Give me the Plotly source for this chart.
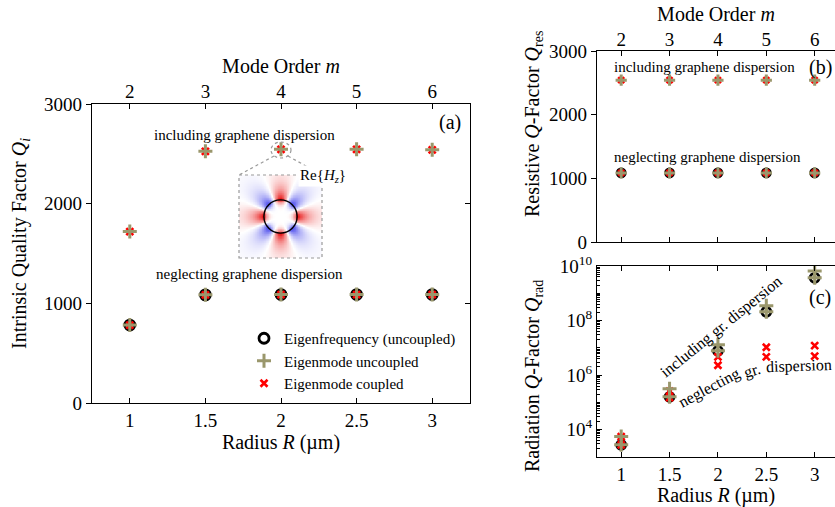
import numpy as np
import plotly.graph_objects as go

# ---------------- data ----------------
radius = [1, 1.5, 2, 2.5, 3]
mode_order = [2, 3, 4, 5, 6]
r_ticks = [1, 1.5, 2, 2.5, 3]
r_tick_labels = ["1", "1.5", "2", "2.5", "3"]

# (a) intrinsic Q
qi_incl_uncoupled = [1720, 2525, 2545, 2545, 2540]
qi_incl_coupled = [1720, 2525, 2545, 2545, 2540]
qi_negl_eigfreq = [782, 1085, 1088, 1088, 1088]
qi_negl_uncoupled = [782, 1085, 1088, 1088, 1088]
qi_negl_coupled = [782, 1085, 1088, 1088, 1088]

# (b) resistive Q
qres_incl_uncoupled = [2542, 2542, 2542, 2542, 2542]
qres_incl_coupled = [2542, 2542, 2542, 2542, 2542]
qres_negl_eigfreq = [1085, 1085, 1085, 1085, 1085]
qres_negl_uncoupled = [1085, 1085, 1085, 1085, 1085]
qres_negl_coupled = [1085, 1085, 1085, 1085, 1085]

# (c) radiation Q
qrad_incl_uncoupled = [5.6e3, 3.2e5, 1.3e7, 3.5e8, 6.6e9]
qrad_incl_coupled = [5.6e3, 2.6e5, 4.7e6, 1.05e7, 1.2e7]
qrad_negl_eigfreq = [2.8e3, 1.6e5, 7.8e6, 2.1e8, 3.7e9]
qrad_negl_uncoupled = [2.8e3, 1.6e5, 7.8e6, 2.1e8, 3.7e9]
qrad_negl_coupled = [2.8e3, 1.5e5, 2.3e6, 4.7e6, 5.0e6]

# ---------------- layout helpers ----------------
W, H = 835, 507
FONT = "Liberation Serif"
OLIVE = "#9a976c"


def px(x):
    return x / W


def py(y):
    return 1 - y / H


fig = go.Figure()

circle_m = dict(symbol="circle-open", size=10, color="black", line=dict(width=2.8, color="black"))
plus_m = dict(symbol="cross-thin", size=10, color=OLIVE, line=dict(width=3.0, color=OLIVE))
x_m = dict(symbol="x-thin", size=7, color="red", line=dict(width=2.6, color="red"))


def add(xa, ya, y, marker, name, show, rank, msize=None):
    mk = dict(marker)
    if msize is not None:
        mk["size"] = msize
    fig.add_trace(go.Scatter(x=radius, y=y, mode="markers", marker=mk, name=name,
                             legendgroup=name, showlegend=show, legendrank=rank,
                             xaxis=xa, yaxis=ya, hoverinfo="x+y"))


def anchor_trace(xa, ya, xs, ys):
    # invisible trace so that the secondary (top / right) axes get drawn
    fig.add_trace(go.Scatter(x=xs, y=ys, mode="markers", marker=dict(opacity=0), showlegend=False,
                             xaxis=xa, yaxis=ya, hoverinfo="skip"))


N1, N2, N3 = "Eigenfrequency (uncoupled)", "Eigenmode uncoupled", "Eigenmode coupled"

# panel (a)
add("x", "y", qi_negl_eigfreq, circle_m, N1, True, 1)
add("x", "y", qi_negl_coupled, x_m, N3, True, 3)
add("x", "y", qi_incl_coupled, x_m, N3, False, 3)
add("x", "y", qi_negl_uncoupled, plus_m, N2, True, 2)
add("x", "y", qi_incl_uncoupled, plus_m, N2, False, 2)
anchor_trace("x2", "y", mode_order, qi_negl_eigfreq)
anchor_trace("x", "y2", radius, qi_negl_eigfreq)

# panel (b)
add("x3", "y3", qres_negl_eigfreq, circle_m, N1, False, 1, 8)
add("x3", "y3", qres_negl_coupled, x_m, N3, False, 3, 6)
add("x3", "y3", qres_incl_coupled, x_m, N3, False, 3, 6)
add("x3", "y3", qres_negl_uncoupled, plus_m, N2, False, 2, 8)
add("x3", "y3", qres_incl_uncoupled, plus_m, N2, False, 2, 8)
anchor_trace("x4", "y3", mode_order, qres_negl_eigfreq)

# panel (c)
add("x5", "y5", qrad_negl_eigfreq, circle_m, N1, False, 1, 9)
add("x5", "y5", qrad_negl_coupled, x_m, N3, False, 3)
add("x5", "y5", qrad_incl_coupled, x_m, N3, False, 3)
add("x5", "y5", qrad_negl_uncoupled, plus_m, N2, False, 2)
add("x5", "y5", qrad_incl_uncoupled, plus_m, N2, False, 2)
anchor_trace("x6", "y5", radius, qrad_negl_eigfreq)

# inset field pattern Re{Hz} (m = 4 whispering gallery mode, illustrative)
g = np.linspace(-1, 1, 121)
X, Y = np.meshgrid(g, g)
Rr = np.hypot(X, Y)
Th = np.arctan2(Y, X)
r0 = 0.40
radial = np.where(Rr < r0, (Rr / r0) ** 5, np.exp(-(Rr - r0) / 0.27))
Hz = np.cos(4 * Th) * radial
Hz = np.where(Hz > 0, Hz, 0.8 * Hz)
fig.add_trace(go.Heatmap(x=g, y=g, z=Hz, zmin=-1, zmax=1, zmid=0, showscale=False,
                         colorscale=[[0, "rgb(20,20,230)"], [0.5, "white"], [1, "rgb(230,0,0)"]],
                         xaxis="x7", yaxis="y7", hoverinfo="skip"))

tickfont = dict(family=FONT, size=19, color="black")
ax_common = dict(showline=True, linecolor="black", linewidth=1.3, ticklen=5, tickwidth=1.1,
                 tickcolor="black", showgrid=False, zeroline=False, tickfont=tickfont,
                 automargin=False)
title_font = dict(family=FONT, size=20, color="black")

dom_a_x = [px(92), px(470)]
dom_a_y = [py(403), py(104)]
dom_b_x = [px(597), 1.0]
dom_b_y = [py(242), py(51)]
dom_c_y = [py(457), py(266)]
xr_bc = [0.75, 3.21]

fig.update_layout(
    width=W, height=H, margin=dict(l=0, r=0, t=0, b=0, autoexpand=False),
    paper_bgcolor="white", plot_bgcolor="white",
    font=dict(family=FONT, size=15, color="black"),
    # (a)
    xaxis=dict(domain=dom_a_x, range=[0.75, 3.25], anchor="y", ticks="inside",
               tickvals=r_ticks, ticktext=r_tick_labels,
               title=dict(text="Radius <i>R</i> (µm)", font=title_font, standoff=4), **ax_common),
    yaxis=dict(domain=dom_a_y, range=[0, 3000], anchor="x", ticks="outside",
               tickvals=[0, 1000, 2000, 3000], **ax_common),
    xaxis2=dict(overlaying="x", side="top", anchor="y", range=[1.5, 6.5], ticks="inside",
                tickvals=mode_order, ticklabelstandoff=-3,
                title=dict(text="Mode Order <i>m</i>", font=title_font, standoff=2),
                **ax_common),
    yaxis2=dict(overlaying="y", side="right", anchor="x", range=[0, 3000], ticks="inside",
                tickvals=[0, 1000, 2000, 3000], showticklabels=False, **ax_common),
    # (b)
    xaxis3=dict(domain=dom_b_x, range=xr_bc, anchor="y3", ticks="inside", tickvals=r_ticks,
                showticklabels=False, **ax_common),
    yaxis3=dict(domain=dom_b_y, range=[0, 3000], anchor="x3", ticks="outside",
                tickvals=[0, 1000, 2000, 3000], **ax_common),
    xaxis4=dict(overlaying="x3", side="top", anchor="y3", range=[1.5, 6.42], ticks="inside",
                tickvals=mode_order, ticklabelstandoff=-4,
                title=dict(text="Mode Order <i>m</i>", font=title_font, standoff=2),
                **ax_common),
    # (c)
    xaxis5=dict(domain=dom_b_x, range=xr_bc, anchor="y5", ticks="inside", tickvals=r_ticks,
                ticktext=r_tick_labels,
                title=dict(text="Radius <i>R</i> (µm)", font=title_font, standoff=4), **ax_common),
    yaxis5=dict(domain=dom_c_y, type="log", range=[3, 10], anchor="x5", ticks="inside",
                tickvals=[1e4, 1e6, 1e8, 1e10],
                ticktext=["10<sup>4</sup>", "10<sup>6</sup>", "10<sup>8</sup>", "10<sup>10</sup>"],
                minor=dict(ticks="inside", ticklen=2.5, tickcolor="black",
                           tickvals=[k * 10.0 ** d for d in range(3, 10) for k in range(1, 10)]),
                **ax_common),
    xaxis6=dict(overlaying="x5", side="top", anchor="y5", range=xr_bc, ticks="inside",
                tickvals=r_ticks, showticklabels=False, **ax_common),
    # inset
    xaxis7=dict(domain=[px(239), px(322)], range=[-1, 1], visible=False, anchor="y7"),
    yaxis7=dict(domain=[py(258), py(175)], range=[-1, 1], visible=False, anchor="x7"),
    legend=dict(x=px(244), y=py(322), xanchor="left", yanchor="top", bgcolor="rgba(0,0,0,0)",
                font=dict(family=FONT, size=15, color="black"), itemwidth=30, tracegroupgap=0),
    showlegend=True,
)

# shapes: inset frame, zoom circle and connectors, field ring
dash = dict(color="#9a9a9a", width=1.2, dash="dot")
fig.add_shape(type="rect", xref="paper", yref="paper", x0=px(239), x1=px(322), y0=py(258), y1=py(175),
              line=dash)
fig.add_shape(type="circle", xref="paper", yref="paper", x0=px(271), x1=px(291), y0=py(158), y1=py(142),
              line=dash)
fig.add_shape(type="line", xref="paper", yref="paper", x0=px(274), y0=py(156), x1=px(239), y1=py(175), line=dash)
fig.add_shape(type="line", xref="paper", yref="paper", x0=px(288), y0=py(156), x1=px(322), y1=py(175), line=dash)
fig.add_shape(type="circle", xref="x7", yref="y7", x0=-r0, x1=r0, y0=-r0, y1=r0,
              line=dict(color="black", width=1.4))


def ann(text, x, y, size=15, angle=0, bg=None):
    fig.add_annotation(text=text, x=px(x), y=py(y), xref="paper", yref="paper", showarrow=False,
                       font=dict(family=FONT, size=size, color="black"), textangle=angle,
                       xanchor="center", yanchor="middle", bgcolor=bg)


ann("including graphene dispersion", 245, 135)
ann("neglecting graphene dispersion", 249, 274)
ann("(a)", 450, 122, size=20)
ann("Re{<i>H</i><sub><i>z</i></sub>}", 323, 176, size=15, bg="white")
ann("including graphene dispersion", 704, 67)
ann("neglecting graphene dispersion", 707, 157)
ann("(b)", 820, 67, size=20)
ann("(c)", 820, 297, size=20)
ann("including gr. dispersion", 721, 327, size=16, angle=-39)
ann("neglecting", 709, 388, size=16, angle=-28)
ann("gr.", 752, 371, size=16, angle=-17)
ann("dispersion", 799, 366, size=16, angle=-2)

# y-axis titles
ann("Intrinsic Quality Factor <i>Q</i><sub><i>i</i></sub>", 20, 244, size=20, angle=-90)
ann("Resistive <i>Q</i>-Factor <i>Q</i><sub>res</sub>", 533, 124, size=20, angle=-90)
ann("Radiation <i>Q</i>-Factor <i>Q</i><sub>rad</sub>", 533, 376, size=20, angle=-90)

# remove the default page margin so the 835x507 figure fills the window exactly
fig.write_html("out.html", config={"displayModeBar": False},
               post_script="document.body.style.margin='0px';")
